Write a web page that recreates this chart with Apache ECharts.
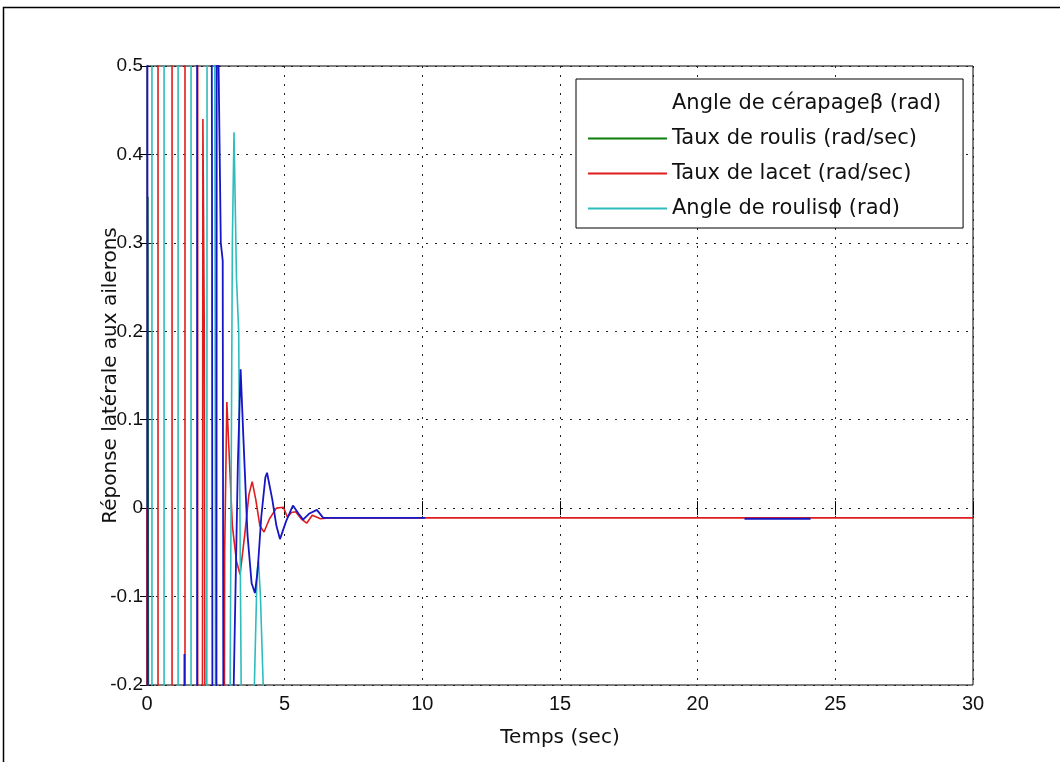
<!DOCTYPE html>
<html>
<head>
<meta charset="utf-8">
<script src="https://cdn.jsdelivr.net/npm/echarts@6/dist/echarts.min.js"></script>
<style>
html,body{margin:0;padding:0;background:#fff;}
#chart{width:1060px;height:762px;}
</style>
</head>
<body>
<div id="chart"></div>
<script>
// ---- data ----
const seriesNames = ['Angle de cérapageβ (rad)', 'Taux de roulis (rad/sec)', 'Taux de lacet (rad/sec)', 'Angle de roulisϕ (rad)'];
const xTickRange = [0, 30, 5];
const yTickRange = [-0.2, 0.5, 0.1];
const xAxisTitle = 'Temps (sec)';
const yAxisTitle = 'Réponse latérale aux ailerons';

// [time (s), value]
const betaData = [
  [0, 2], [0.04, -2], [1.30, -2], [1.36, -0.165], [1.42, -2], [1.82, -2], [1.82, 2], [2.25, 2],
  [2.36, 0.40], [2.42, -2], [2.50, -2], [2.55, 2], [2.60, 0.5], [2.68, 0.30], [2.75, 0.28], [2.85, -2],
  [3.05, -2], [3.15, -0.2], [3.30, 0.05], [3.40, 0.157], [3.50, 0.08], [3.65, -0.03], [3.80, -0.085],
  [3.92, -0.096], [4.02, -0.07], [4.15, -0.01], [4.30, 0.035], [4.36, 0.04], [4.55, 0.01], [4.70, -0.02],
  [4.83, -0.035], [5.05, -0.015], [5.30, 0.003], [5.50, -0.006], [5.67, -0.013], [5.90, -0.006],
  [6.17, -0.002], [6.40, -0.011], [10.1, -0.011], [10.15, null], [21.7, -0.012], [24.1, -0.012]
];
const rollRateData = [
  [0, -2], [0.03, 0.352], [0.12, -2]
];
const yawRateData = [
  [0, 0], [0.03, -2], [0.40, -2], [0.40, 2], [0.91, 2], [0.91, -2], [1.38, -2], [1.38, 2], [1.84, 2],
  [1.84, -2], [1.97, -2], [2.03, 0.44], [2.08, 0.2], [2.20, -2], [2.72, -2], [2.82, -0.05], [2.90, 0.12],
  [3.00, 0.05], [3.10, -0.02], [3.25, -0.06], [3.38, -0.075], [3.55, -0.03], [3.70, 0.015], [3.82, 0.03],
  [3.95, 0.01], [4.10, -0.02], [4.25, -0.027], [4.45, -0.012], [4.70, 0.0], [4.95, 0.001], [5.10, -0.01],
  [5.25, -0.005], [5.40, -0.004], [5.60, -0.012], [5.80, -0.017], [6.00, -0.008], [6.30, -0.012],
  [6.60, -0.011], [30, -0.011]
];
const rollAngleData = [
  [0, -2], [0.18, -2], [0.18, 2], [0.62, 2], [0.62, -2], [1.13, -2], [1.13, 2], [1.60, 2], [1.60, -2],
  [2.15, -2], [2.20, 2], [2.40, 2], [2.47, 0.35], [2.55, -2], [2.95, -2], [3.02, -0.2], [3.10, 0.30],
  [3.16, 0.425], [3.25, 0.26], [3.33, 0.20], [3.42, -0.2], [3.50, -2], [3.80, -2], [3.90, -0.2],
  [4.00, -0.07], [4.05, -0.06], [4.12, -0.10], [4.22, -0.2], [4.30, -2]
];

const colors = { beta: '#1616c4', p: '#0b7d0b', r: '#e01c1c', phi: '#2fbcbc' };
const FONT = 'DejaVu Sans';
const TICKFONT = 'Liberation Sans';

const chart = echarts.init(document.getElementById('chart'), null, { renderer: 'canvas' });

function lineSeries(name, data, color, width, z) {
  return {
    name: name, type: 'line', data: data, symbol: 'none', clip: true,
    connectNulls: false, animation: false, z: z,
    lineStyle: { color: color, width: width }, itemStyle: { color: color },
    xAxisIndex: 0, yAxisIndex: 0
  };
}

const tickStyle = { show: true, inside: true, length: 7, lineStyle: { color: '#000', width: 1 } };
const gridLine = { show: true, lineStyle: { color: '#222', width: 1, type: [2, 7] } };
const legendIcon = 'path://M0,0H79V2H0Z';

const option = {
  backgroundColor: '#fff',
  animation: false,
  textStyle: { fontFamily: FONT },
  grid: { left: 147, right: 87, top: 66, bottom: 77, show: true, borderColor: '#000', borderWidth: 1, backgroundColor: 'transparent', containLabel: false },
  xAxis: [
    {
      type: 'value', min: xTickRange[0], max: xTickRange[1], interval: xTickRange[2], position: 'bottom',
      axisLine: { show: false }, axisTick: tickStyle, splitLine: gridLine,
      axisLabel: { color: '#111', fontSize: 20, fontFamily: TICKFONT, margin: 9 },
      name: xAxisTitle, nameLocation: 'middle', nameGap: 43, nameMoveOverlap: false,
      nameTextStyle: { color: '#111', fontSize: 20, fontFamily: FONT }
    },
    {
      type: 'value', min: xTickRange[0], max: xTickRange[1], interval: xTickRange[2], position: 'top',
      axisLine: { show: false }, axisTick: tickStyle, splitLine: { show: false }, axisLabel: { show: false }
    }
  ],
  yAxis: [
    {
      type: 'value', min: yTickRange[0], max: yTickRange[1], interval: yTickRange[2], position: 'left',
      axisLine: { show: false }, axisTick: tickStyle, splitLine: gridLine,
      axisLabel: { color: '#111', fontSize: 19, fontFamily: TICKFONT, margin: 4,
        formatter: v => String(parseFloat(v.toFixed(1))) },
      name: yAxisTitle, nameLocation: 'middle', nameGap: 26, nameRotate: 90, nameMoveOverlap: false,
      nameTextStyle: { color: '#111', fontSize: 20, fontFamily: FONT }
    },
    {
      type: 'value', min: yTickRange[0], max: yTickRange[1], interval: yTickRange[2], position: 'right',
      axisLine: { show: false }, axisTick: tickStyle, splitLine: { show: false }, axisLabel: { show: false }
    }
  ],
  legend: {
    orient: 'vertical', left: 576, top: 79,
    backgroundColor: '#fff', borderColor: '#000', borderWidth: 1, borderRadius: 0,
    padding: [13, 22, 8, 12], itemGap: 12, itemWidth: 79, itemHeight: 2,
    icon: legendIcon, symbolKeepAspect: false,
    textStyle: { color: '#111', fontSize: 21, fontFamily: FONT, lineHeight: 23 },
    data: [
      { name: seriesNames[0], itemStyle: { opacity: 0 } },
      { name: seriesNames[1] },
      { name: seriesNames[2] },
      { name: seriesNames[3] }
    ]
  },
  graphic: [
    { type: 'polyline', shape: { points: [[3.5, 800], [3.5, 7.5], [1070, 7.5]] }, style: { stroke: '#000', lineWidth: 1.5, fill: null }, z: 100 }
  ],
  series: [
    lineSeries(seriesNames[1], rollRateData, colors.p, 1.6, 2),
    lineSeries(seriesNames[2], yawRateData, colors.r, 1.6, 3),
    lineSeries(seriesNames[3], rollAngleData, colors.phi, 1.6, 4),
    lineSeries(seriesNames[0], betaData, colors.beta, 1.8, 5)
  ]
};
chart.setOption(option);
</script>
</body>
</html>
